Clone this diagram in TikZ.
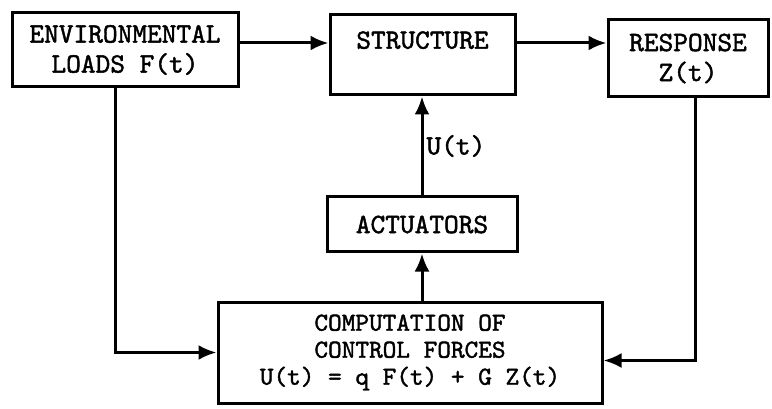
\documentclass[tikz,border=0pt]{standalone}
\usepackage{fontspec}
\newfontfamily\typew{lmmono10-regular.otf}[FakeBold=1.6]
\usetikzlibrary{arrows.meta, positioning, calc}

\begin{document}
\begin{tikzpicture}[
  x=1pt, y=-1pt,
  >={Latex[length=18pt,width=15pt]},
  block/.style={
    draw,
    line width=3pt,
    align=center,
    inner sep=0pt,
    font=\typew\fontsize{28}{30}\selectfont
  },
  link/.style={->, line width=3pt},
  lbl/.style={font=\typew\fontsize{28}{30}\selectfont, inner sep=3pt}
]
\useasboundingbox (0,0) rectangle (772,409);

% Ligne du haut
\node[block, minimum width=226pt, minimum height=74pt] (env) at (125,50)
  {ENVIRONMENTAL\\LOADS F(t)};
\node[block, minimum width=185pt, minimum height=80pt] (struct) at (422.5,55)
  {STRUCTURE\\\mbox{}};
\node[block, minimum width=160pt, minimum height=77pt] (resp) at (688,58.5)
  {RESPONSE\\Z(t)};

% Actionneurs et calcul
\node[block, minimum width=190pt, minimum height=55pt] (act) at (422,224.5)
  {ACTUATORS};
\node[block, minimum width=384pt, minimum height=101pt,
  font=\typew\fontsize{26}{27}\selectfont] (comp) at (410,352.5)
  {COMPUTATION OF\\CONTROL FORCES\\U(t) = q F(t) + G Z(t)};

\coordinate (row) at (0,43);

% Connexions du haut
\draw[link] (env.east |- row) -- (struct.west |- row);
\draw[link] (struct.east |- row) -- (resp.west |- row);

% Boucle de commande
\draw[link] ([xshift=-10pt]env.south) |- (comp.west);
\draw[link] ([xshift=7pt]resp.south) |- ([yshift=-8pt]comp.east);
\draw[link] (comp.north -| act.south) -- (act.south);
\draw[link] (act.north) -- (struct.south -| act.north)
  node[lbl, midway, right] {U(t)};

\end{tikzpicture}
\end{document}
